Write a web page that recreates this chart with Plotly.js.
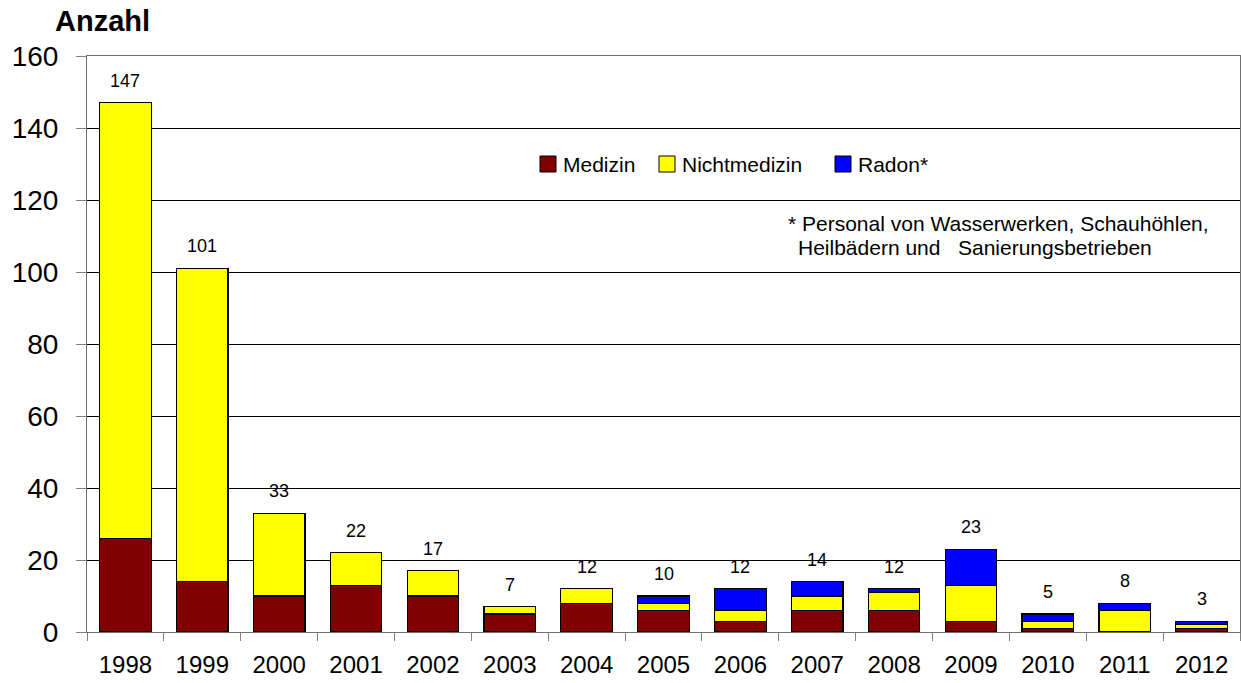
<!DOCTYPE html>
<html>
<head>
<meta charset="utf-8">
<script src="https://cdn.plot.ly/plotly-3.0.1.min.js"></script>
<style>html,body{margin:0;padding:0;background:#fff;}#chart{width:1241px;height:683px;}</style>
</head>
<body>
<div id="chart"></div>
<script>
const years = ['1998','1999','2000','2001','2002','2003','2004','2005','2006','2007','2008','2009','2010','2011','2012'];
const medizin = [26,14,10,13,10,5,8,6,3,6,6,3,1,0,1];
const nichtmedizin = [121,87,23,9,7,2,4,2,3,4,5,10,2,6,1];
const radon = [0,0,0,0,0,0,0,2,6,4,1,10,2,2,1];
const seriesNames = ['Medizin','Nichtmedizin','Radon*'];
const seriesColors = ['#800000','#FFFF00','#0000FF'];
const footnote = ['* Personal von Wasserwerken, Schauhöhlen,', 'Heilbädern und   Sanierungsbetrieben'];
const yTitle = 'Anzahl';

const FONT = '"Liberation Sans", Arial, sans-serif';
const seriesData = [medizin, nichtmedizin, radon];
const totals = years.map((_, i) => medizin[i] + nichtmedizin[i] + radon[i]);

const traces = seriesData.map((vals, k) => ({
  type: 'bar', x: years, y: vals, name: seriesNames[k],
  marker: {color: seriesColors[k], line: {color: '#000', width: 1.2}},
  hoverinfo: 'x+y+name'
}));

const W = 1241, H = 683, L = 87, R = 1, T = 56, B = 51;
const pw = W - L - R, ph = H - T - B;
const px = v => (v - L) / pw;
const py = v => (H - B - v) / ph;

// totals labels: x given as category index so numeric-looking names are not misread
const annotations = years.map((yr, i) => ({
  x: i, y: totals[i], xref: 'x', yref: 'y', text: String(totals[i]),
  showarrow: false, yanchor: 'bottom', yshift: 10,
  font: {family: FONT, size: 18, color: '#000'}
}));
annotations.push({xref: 'paper', yref: 'paper', x: px(53), y: py(21), xanchor: 'left', yanchor: 'middle',
  text: '<b>' + yTitle + '</b>', showarrow: false, font: {family: FONT, size: 29, color: '#000'}});
annotations.push({xref: 'paper', yref: 'paper', x: px(786), y: py(224), xanchor: 'left', yanchor: 'middle',
  text: footnote[0], showarrow: false, font: {family: FONT, size: 21, color: '#000'}});
annotations.push({xref: 'paper', yref: 'paper', x: px(796), y: py(247), xanchor: 'left', yanchor: 'middle',
  text: footnote[1], showarrow: false, font: {family: FONT, size: 21, color: '#000'}});

// manual legend
const legendX = [540, 659, 835];
const shapes = [];
seriesNames.forEach((nm, k) => {
  shapes.push({type: 'rect', xref: 'paper', yref: 'paper',
    x0: px(legendX[k]), x1: px(legendX[k] + 16), y0: py(172), y1: py(156),
    fillcolor: seriesColors[k], line: {color: '#000', width: 1}});
  annotations.push({xref: 'paper', yref: 'paper', x: px(legendX[k] + 21), y: py(164),
    xanchor: 'left', yanchor: 'middle', text: nm, showarrow: false,
    font: {family: FONT, size: 21, color: '#000'}});
});

const layout = {
  width: W, height: H,
  margin: {l: L, r: R, t: T, b: B, pad: 0},
  paper_bgcolor: '#fff', plot_bgcolor: '#fff',
  barmode: 'stack', bargap: 0.33,
  showlegend: false,
  font: {family: FONT, color: '#000'},
  xaxis: {type: 'category', categoryarray: years, tickson: 'boundaries', ticks: 'outside', ticklen: 8, tickcolor: '#808080',
    showline: true, linecolor: '#707070', linewidth: 1, mirror: true, showgrid: false,
    range: [-0.5, years.length - 0.5], autorange: false,
    tickfont: {family: FONT, size: 24, color: '#000'}, ticklabelstandoff: 11, tickangle: 0},
  yaxis: {range: [0, 160], dtick: 20, ticks: 'outside', ticklen: 10, tickcolor: '#808080',
    showline: true, linecolor: '#707070', linewidth: 1, mirror: true,
    showgrid: true, gridcolor: '#000', gridwidth: 1, zeroline: false,
    tickfont: {family: FONT, size: 28, color: '#000'}, ticklabelstandoff: 12},
  annotations: annotations,
  shapes: shapes
};

Plotly.newPlot('chart', traces, layout, {staticPlot: true, displayModeBar: false});
</script>
</body>
</html>
